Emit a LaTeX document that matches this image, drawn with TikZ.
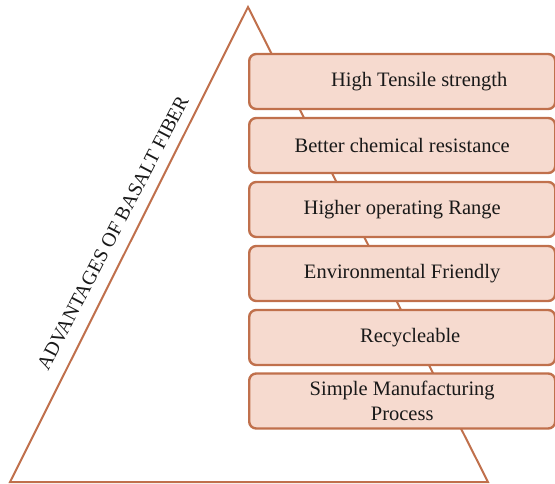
\documentclass[tikz,border=0pt]{standalone}
\usepackage{fontspec}
\setmainfont{Liberation Serif}
\definecolor{edge}{HTML}{C0704C}
\definecolor{boxfill}{HTML}{F6DACF}
\begin{document}
\begin{tikzpicture}[x=1pt,y=-1pt,
  itembox/.style={draw=edge, fill=boxfill, line width=2.4pt, rounded corners=7pt,
    minimum width=306pt, minimum height=55pt, inner sep=0pt, anchor=west,
    font=\fontsize{20.5}{25}\selectfont, align=center, text=black!90},
  tri/.style={draw=edge, line width=2pt, line join=miter}]
\useasboundingbox (0,0) rectangle (555,483);
\clip (0,0) rectangle (555,483);
\coordinate (apex) at (248,7);
\coordinate (bl) at (10,482);
\coordinate (br) at (488,482);
\draw[tri] (apex) -- (bl) -- (br) -- cycle;
\node[font=\fontsize{20}{24}\selectfont, rotate=62.5, text=black!90] (title) at (113,233) {ADVANTAGES OF BASALT FIBER};
\node[itembox] (b1) at (248,81.5) {\hspace*{34pt}High Tensile strength};
\node[itembox] (b2) at (248,145.5) {Better chemical resistance};
\node[itembox] (b3) at (248,209.5) {Higher operating Range};
\node[itembox] (b4) at (248,273.5) {Environmental Friendly};
\node[itembox] (b5) at (248,337.5) {\hspace*{16pt}Recycleable};
\node[itembox] (b6) at (248,401) {Simple Manufacturing\\Process};
\end{tikzpicture}
\end{document}
